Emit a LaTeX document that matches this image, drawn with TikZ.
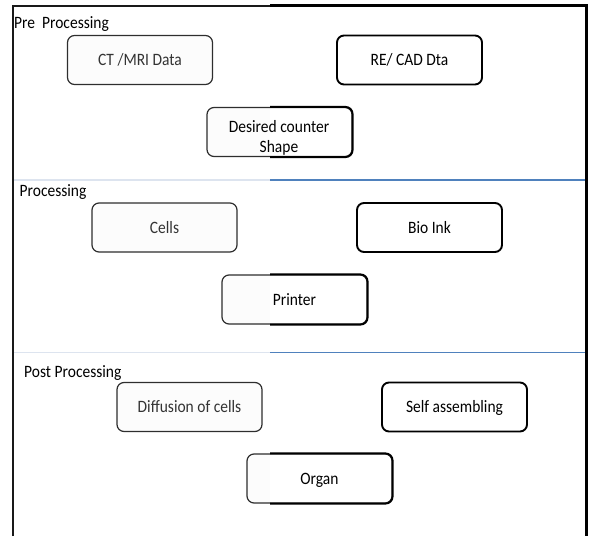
\documentclass[tikz,border=0pt]{standalone}
\usepackage{fontspec}
\setmainfont{Carlito}
\usetikzlibrary{backgrounds}
\definecolor{sepL}{RGB}{221,228,239}
\definecolor{sepR}{RGB}{79,129,189}
\definecolor{boxgray}{RGB}{252,252,252}
\newcommand{\vs}[1]{\scalebox{1}[1.12]{#1}}
\newcommand{\splitbox}[1]{%
  \begin{scope}[on background layer]
    \clip (0,0) rectangle (270,536);
    \fill[fillL] (#1.south west) rectangle (#1.north east);
  \end{scope}
  \begin{scope}
    \clip (270,0) rectangle (589,536);
    \draw[overR] (#1.south west) rectangle (#1.north east);
  \end{scope}}
\begin{document}
\begin{tikzpicture}[x=1pt,y=-1pt,
  every node/.style={font=\fontsize{15.5}{20}\selectfont},
  box/.style={rounded corners=7pt, minimum width=145pt, minimum height=49pt, inner sep=0pt, text height=11pt, text depth=0pt},
  boxL/.style={box, draw=black!82, line width=1.2pt, fill=boxgray, text=black!80},
  boxR/.style={box, draw=black, line width=1.9pt, fill=white, text=black},
  boxM/.style={box, draw=black!82, line width=1.2pt, text=black},
  overR/.style={draw=black, line width=1.9pt, rounded corners=7pt},
  fillL/.style={fill=boxgray, rounded corners=7pt},
  seclabel/.style={anchor=base west, inner sep=0pt, text=black},
  frameL/.style={line width=2pt, black!90},
  frameR/.style={line width=3.6pt, black},
  sepLeft/.style={line width=1.5pt, sepL},
  sepRight/.style={line width=1.8pt, sepR},
]
\useasboundingbox (0,0) rectangle (589,536);

% frame
\coordinate (tl) at (13,5.5);
\coordinate (tm) at (270,5.5);
\coordinate (tr) at (586.5,5.5);
\coordinate (bl) at (13,536);
\coordinate (br) at (586.5,536);
\draw[frameL] (bl) -- (tl) -- (tm);
\draw[frameR] (tm) -- (tr) -- (br);

% separators
\coordinate (s1a) at (14,180);
\coordinate (s1b) at (270,180);
\coordinate (s1c) at (585,180);
\coordinate (s2a) at (14,352.5);
\coordinate (s2b) at (270,352.5);
\coordinate (s2c) at (585,352.5);
\draw[sepLeft] (s1a) -- (s1b);
\draw[sepRight] (s1b) -- (s1c);
\draw[sepLeft] (s2a) -- (s2b);
\draw[sepRight] (s2b) -- (s2c);

% section labels
\node[seclabel] (pre) at (14,28) {\vs{Pre\ \ Processing}};
\node[seclabel] (proc) at (19.5,196) {\vs{Processing}};
\node[seclabel] (post) at (24,377) {\vs{Post Processing}};

% pre processing
\node[boxL] (ct) at (140,60) {\vs{CT /MRI Data}};
\node[boxR] (re) at (409.5,60) {\vs{RE/ CAD Dta}};
\node[boxM] (desired) at (279.5,132) {};
\node[align=center, inner sep=0pt, text=black] (desiredtxt) at (279,137.5) {\vs{Desired counter}\\\vs{Shape}};
\splitbox{desired}

% processing
\node[boxL] (cells) at (164.5,227.5) {\vs{Cells}};
\node[boxR] (bio) at (429.5,227.5) {\vs{Bio Ink}};
\node[boxM] (printer) at (294.5,299.5) {\vs{Printer}};
\splitbox{printer}

% post processing
\node[boxL] (diff) at (189.5,407) {\vs{Diffusion of cells}};
\node[boxR] (self) at (454.5,407) {\vs{Self assembling}};
\node[boxM] (organ) at (319.5,478.5) {\vs{Organ}};
\splitbox{organ}
\end{tikzpicture}
\end{document}
